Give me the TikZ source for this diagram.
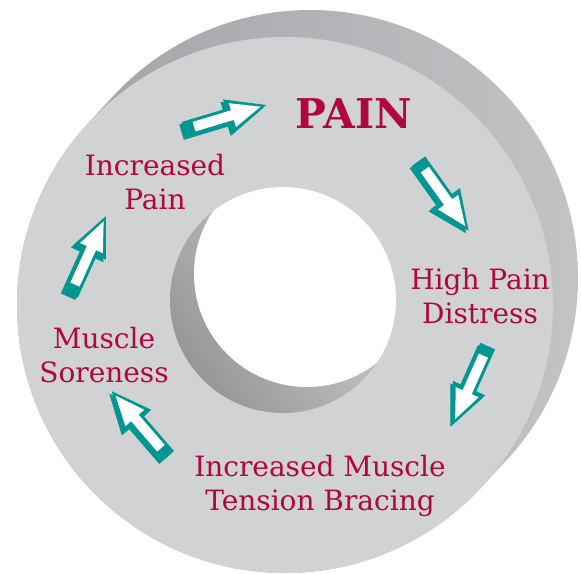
\documentclass[tikz,border=0pt]{standalone}
\usepackage{fontspec}
\setmainfont{DejaVu Serif}
\usetikzlibrary{calc}
\definecolor{face}{RGB}{209,210,212}
\definecolor{sidedark}{RGB}{158,159,162}
\definecolor{sidelight}{RGB}{196,197,199}
\definecolor{walllight}{RGB}{210,211,213}
\definecolor{walldark}{RGB}{150,151,153}
\definecolor{tealc}{RGB}{0,150,145}
\definecolor{crim}{RGB}{176,8,58}
\tikzset{
  lbl/.style={text=crim, font=\fontsize{28}{34}\selectfont, align=center, inner sep=0pt},
  painlbl/.style={text=crim, font=\bfseries\fontsize{41}{44}\selectfont, inner sep=0pt},
  arrowbody/.pic={\filldraw[tealc, line width=1pt, line join=miter]
      (0,-7.5) -- (46,-7.5) -- (46,-17) -- (84,0) -- (46,17) -- (46,7.5) -- (0,7.5) -- cycle;},
  arrowinner/.pic={\fill[white]
      (10,-5) -- (50,-5) -- (50,-12.5) -- (79.5,0) -- (50,12.5) -- (50,5) -- (10,5) -- cycle;},
}
\newcommand\blockarrow[2]{%
  \pic[rotate=#2] at ($(#1)+(-2.5,2.5)$) {arrowbody};
  \pic[rotate=#2] at (#1) {arrowbody};
  \pic[rotate=#2] at (#1) {arrowinner};}
\begin{document}
\begin{tikzpicture}[x=1pt,y=-1pt]
\useasboundingbox (0,0) rectangle (581,573);
\coordinate (fc) at (285,305);
\coordinate (bc) at (310,278);
\coordinate (hc) at (283,300);
\coordinate (hb) at (307,274);
% side of the ring
\shade[left color=sidedark, right color=sidelight]
  ($(bc)+(222.8:268)$) arc[start angle=222.8, end angle=402.8, radius=268]
  -- ($(fc)+(42.8:268)$) arc[start angle=42.8, end angle=222.8, radius=268] -- cycle;
% front face
\fill[face] (fc) circle (268);
% hole
\begin{scope}
  \clip (hc) circle (113);
  \shade[left color=walllight, right color=walldark, shading angle=-55] (hc) circle (113);
  \fill[white] (hb) circle (113);
\end{scope}
% labels
\node[painlbl] (pain) at (354,114) {PAIN};
\node[lbl] (incpain) at (155,182) {Increased\\Pain};
\node[lbl] (hpd) at (480,296) {High Pain\\Distress};
\node[lbl] (ms) at (104,355) {Muscle\\Soreness};
\node[lbl] (imtb) at (320,486) {Increased Muscle\\Tension Bracing};
% arrows
\coordinate (a1) at (184.5,129.5);
\coordinate (a2) at (419,161.5);
\coordinate (a3) at (487.5,346.5);
\coordinate (a4) at (167.5,455.8);
\coordinate (a5) at (70.8,293.7);
\blockarrow{a1}{16.7}
\blockarrow{a2}{-54.4}
\blockarrow{a3}{-114}
\blockarrow{a4}{130.8}
\blockarrow{a5}{65.6}
\end{tikzpicture}
\end{document}
